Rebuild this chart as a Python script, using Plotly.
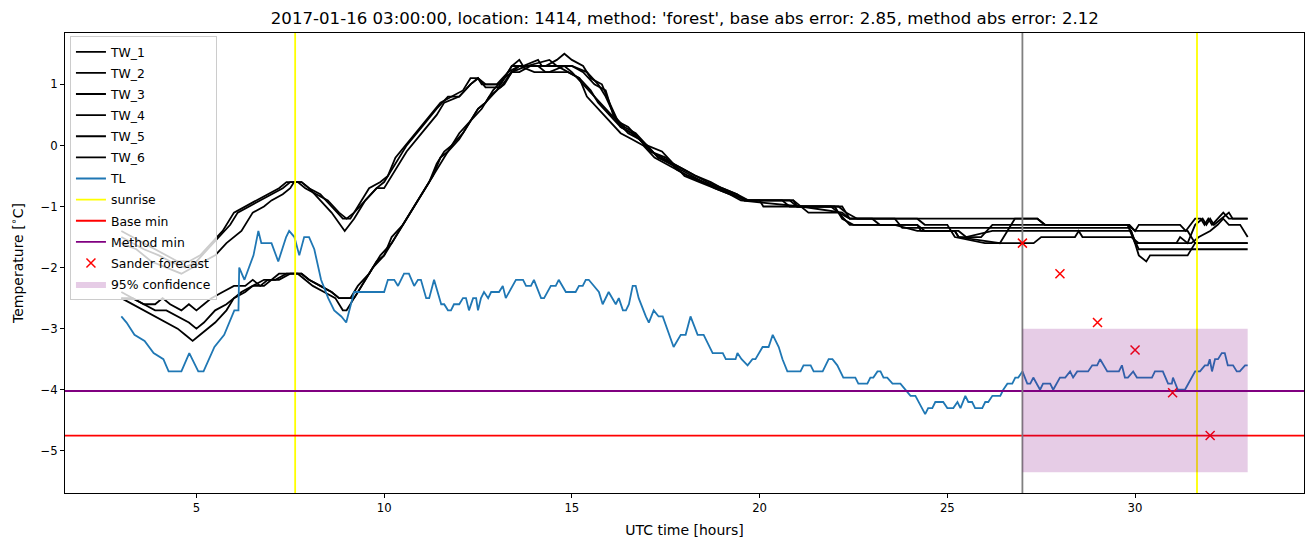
import plotly.graph_objects as go

# ---------------- data ----------------
tl_hours = [3.0, 3.14, 3.35, 3.62, 3.86, 4.12, 4.26, 4.6, 4.81, 5.05, 5.19, 5.48, 5.74, 6.01, 6.12, 6.14, 6.28,
            6.52, 6.65, 6.73, 7.0, 7.18, 7.39, 7.47, 7.61, 7.74, 7.87, 8.0, 8.14, 8.32, 8.51, 8.67, 8.86, 8.99,
            9.2, 9.34, 10.0, 10.1, 10.27, 10.37, 10.53, 10.66, 10.8, 10.9, 10.98, 11.12, 11.2, 11.33, 11.52,
            11.6, 11.7, 11.78, 11.86, 12.0, 12.1, 12.18, 12.26, 12.37, 12.45, 12.5, 12.58, 12.66, 12.77, 12.85,
            13.06, 13.16, 13.24, 13.51, 13.7, 13.78, 13.91, 13.99, 14.18, 14.26, 14.44, 14.57, 14.65, 14.84,
            15.1, 15.19, 15.29, 15.37, 15.45, 15.72, 15.82, 15.98, 16.17, 16.25, 16.36, 16.44, 16.52, 16.62,
            16.7, 16.78, 16.84, 16.97, 17.05, 17.18, 17.31, 17.42, 17.71, 17.9, 18.03, 18.16, 18.35, 18.51,
            18.75, 19.02, 19.1, 19.36, 19.41, 19.52, 19.68, 19.81, 19.89, 20.08, 20.24, 20.35, 20.51, 20.61,
            20.74, 21.09, 21.17, 21.36, 21.44, 21.68, 21.84, 21.94, 22.07, 22.15, 22.23, 22.55, 22.63, 22.87,
            22.95, 23.03, 23.14, 23.22, 23.3, 23.4, 23.54, 23.75, 23.88, 24.02, 24.15, 24.41, 24.49, 24.6,
            24.68, 24.89, 25.0, 25.16, 25.27, 25.35, 25.48, 25.56, 25.66, 25.74, 25.93, 26.01, 26.09, 26.2,
            26.41, 26.49, 26.6, 26.73, 26.81, 26.89, 27.0, 27.13, 27.21, 27.29, 27.47, 27.55, 27.74, 27.82,
            28.0, 28.14, 28.27, 28.35, 28.46, 28.75, 28.86, 28.99, 29.07, 29.26, 29.57, 29.65, 29.73, 29.81,
            29.95, 30.05, 30.45, 30.53, 30.74, 30.88, 30.98, 31.01, 31.14, 31.33, 31.6, 31.73, 31.86, 31.94,
            31.99, 32.05, 32.13, 32.21, 32.31, 32.39, 32.47, 32.61, 32.71, 32.79, 32.93, 33.0]
tl_temp = [-2.8, -2.9, -3.1, -3.2, -3.4, -3.5, -3.7, -3.7, -3.4, -3.7, -3.7, -3.3, -3.1, -2.7, -2.7, -2.0, -2.2,
           -1.8, -1.4, -1.6, -1.6, -1.9, -1.5, -1.4, -1.5, -1.8, -1.5, -1.5, -1.7, -2.2, -2.5, -2.7, -2.8, -2.9,
           -2.4, -2.4, -2.4, -2.2, -2.2, -2.3, -2.1, -2.1, -2.3, -2.2, -2.2, -2.5, -2.5, -2.2, -2.6,
           -2.6, -2.7, -2.7, -2.6, -2.6, -2.5, -2.5, -2.7, -2.5, -2.5, -2.7, -2.5, -2.4, -2.5, -2.4,
           -2.4, -2.3, -2.5, -2.2, -2.2, -2.3, -2.3, -2.2, -2.5, -2.5, -2.3, -2.3, -2.2, -2.4,
           -2.4, -2.3, -2.3, -2.2, -2.2, -2.4, -2.6, -2.4, -2.6, -2.5, -2.7, -2.7, -2.6, -2.3,
           -2.3, -2.5, -2.6, -2.8, -2.9, -2.7, -2.8, -2.8, -3.3, -3.1, -3.1, -2.8, -3.1, -3.1,
           -3.4, -3.4, -3.5, -3.5, -3.4, -3.5, -3.6, -3.5, -3.5, -3.3, -3.3, -3.1, -3.3, -3.5,
           -3.7, -3.7, -3.6, -3.6, -3.7, -3.7, -3.5, -3.5, -3.6, -3.7, -3.8, -3.8, -3.9, -3.9,
           -3.8, -3.8, -3.7, -3.7, -3.8, -3.8, -3.9, -3.9, -4.0, -4.1, -4.1, -4.4, -4.3, -4.3,
           -4.2, -4.2, -4.3, -4.3, -4.2, -4.3, -4.1, -4.2, -4.2, -4.3, -4.3, -4.2, -4.2, -4.1,
           -4.1, -4.0, -3.9, -3.9, -3.8, -3.8, -3.7, -3.9, -3.9, -3.8, -4.0, -3.9, -3.9, -4.0,
           -3.8, -3.8, -3.7, -3.8, -3.7, -3.7, -3.6, -3.6, -3.5, -3.7, -3.7, -3.6, -3.8, -3.8,
           -3.7, -3.8, -3.8, -3.7, -3.7, -3.9, -3.9, -3.8, -4.0, -4.0, -3.7, -3.7, -3.6, -3.6,
           -3.5, -3.7, -3.5, -3.5, -3.4, -3.4, -3.6, -3.6, -3.7, -3.7, -3.6, -3.6]

tw1_hours = [3.0, 3.3, 3.6, 3.9, 4.2, 4.5, 4.8, 5.1, 5.4, 5.7, 6.0, 6.3, 6.6, 6.9, 7.2, 7.4, 7.8, 8.0, 8.3, 8.6,
             8.9, 9.1, 9.3, 9.6, 9.9, 10.1, 10.3, 10.7, 11.1, 11.5, 11.8, 12.1, 12.3, 12.5, 12.7, 13.0, 13.3,
             13.6, 14.0, 14.3, 14.6, 14.8, 15.0, 15.3, 15.5, 15.8, 16.0, 16.3, 16.6, 17.0, 17.4, 17.7, 18.0,
             18.3, 18.7, 19.0, 19.4, 19.7, 20.9, 21.0, 22.2, 22.4, 26.0, 27.4, 27.6, 29.85, 30.0, 30.1, 31.2,
             31.35, 31.6, 31.75, 31.85, 31.95, 32.05, 32.2, 32.35, 32.5, 33.0]
tw1_temp = [-1.4, -1.5, -1.6, -1.7, -1.8, -1.9, -1.9, -1.8, -1.6, -1.4, -1.1, -1.0, -0.9, -0.8, -0.7, -0.6, -0.6,
            -0.7, -0.8, -1.0, -1.2, -1.2, -1.0, -0.7, -0.6, -0.5, -0.2, 0.1, 0.4, 0.7, 0.8, 0.9, 1.1, 1.1, 1.0,
            1.0, 1.2, 1.3, 1.3, 1.3, 1.4, 1.5, 1.4, 1.3, 1.1, 1.0, 0.7, 0.3, 0.2, 0.0, -0.1, -0.3, -0.4, -0.5,
            -0.6, -0.7, -0.8, -0.9, -0.9, -1.0, -1.0, -1.2, -1.2, -1.2, -1.3, -1.3, -1.4, -1.3, -1.3, -1.4,
            -1.2, -1.2, -1.3, -1.2, -1.3, -1.2, -1.1, -1.2, -1.2]

tw2_hours = [3.0, 3.3, 3.6, 4.0, 4.3, 4.7, 5.0, 5.3, 5.6, 5.9, 6.1, 6.4, 6.7, 7.0, 7.3, 7.5, 7.7, 7.9, 8.2, 8.5,
             8.8, 9.0, 9.2, 9.5, 9.8, 10.0, 10.3, 10.6, 11.0, 11.4, 11.7, 12.0, 12.3, 12.5, 12.6, 13.1, 13.4,
             13.6, 13.7, 14.1, 14.2, 14.6, 15.0, 15.4, 15.7, 15.9, 16.2, 16.5, 16.8, 17.1, 17.5, 17.8, 18.1,
             18.5, 18.9, 19.3, 19.6, 20.9, 21.3, 22.1, 22.4, 24.2, 24.3, 25.2, 25.3, 25.9, 26.2, 29.8, 30.0,
             31.5, 31.7, 32.0, 32.2, 32.35, 32.5, 32.8, 33.0]
tw2_temp = [-1.5, -1.6, -1.7, -1.8, -1.9, -2.0, -1.9, -1.7, -1.5, -1.3, -1.1, -1.0, -0.9, -0.8, -0.7, -0.6, -0.6,
            -0.7, -0.8, -0.9, -1.1, -1.2, -1.1, -0.9, -0.7, -0.6, -0.3, 0.0, 0.3, 0.6, 0.8, 0.8, 1.0, 1.1, 1.0,
            1.0, 1.3, 1.4, 1.3, 1.4, 1.3, 1.3, 1.3, 1.2, 1.0, 0.8, 0.4, 0.2, 0.1, -0.1, -0.2, -0.4, -0.5,
            -0.6, -0.7, -0.8, -0.9, -0.9, -1.1, -1.1, -1.3, -1.3, -1.4, -1.4, -1.5, -1.5, -1.3, -1.3, -1.6,
            -1.6, -1.5, -1.4, -1.3, -1.2, -1.3, -1.3, -1.5]

tw3_hours = [3.0, 3.4, 3.8, 4.2, 4.6, 4.9, 5.2, 5.5, 5.8, 6.2, 6.5, 6.8, 7.0, 7.3, 7.5, 7.6, 7.8, 8.0, 8.3, 8.6,
             8.95, 9.2, 9.5, 9.8, 10.0, 10.3, 10.6, 11.0, 11.4, 11.6, 12.0, 12.3, 12.5, 12.7, 13.1, 13.4, 13.8,
             14.4, 14.6, 15.0, 15.3, 15.6, 15.9, 16.1, 16.4, 16.7, 17.0, 17.3, 17.7, 18.0, 18.4, 18.8, 19.2,
             19.5, 21.1, 22.2, 22.4, 23.6, 23.8, 27.0, 29.85, 30.1, 33.0]
tw3_temp = [-1.6, -1.7, -1.9, -2.0, -2.1, -2.0, -1.9, -1.8, -1.6, -1.4, -1.1, -1.0, -0.9, -0.8, -0.7, -0.6, -0.6,
            -0.7, -0.9, -1.1, -1.4, -1.2, -0.9, -0.7, -0.7, -0.4, -0.1, 0.2, 0.5, 0.7, 0.8, 1.0, 1.1, 0.95,
            0.95, 1.2, 1.3, 1.4, 1.3, 1.3, 1.2, 1.0, 0.9, 0.5, 0.3, 0.2, 0.0, -0.2, -0.3, -0.5, -0.6, -0.7,
            -0.8, -0.9, -1.0, -1.1, -1.2, -1.2, -1.35, -1.35, -1.35, -1.7, -1.7]

tw4_hours = [3.0, 3.3, 3.6, 3.9, 4.2, 4.5, 4.7, 4.9, 5.1, 5.3, 5.5, 5.8, 6.0, 6.3, 6.5, 6.8, 7.0, 7.2, 7.7, 7.9,
             8.1, 8.4, 8.7, 8.9, 9.0, 9.2, 9.5, 9.8, 10.0, 10.2, 10.5, 10.7, 11.0, 11.2, 11.4, 11.6, 11.8, 12.0,
             12.3, 12.5, 12.7, 12.9, 13.2, 13.4, 13.6, 14.0, 14.4, 14.8, 15.0, 15.3, 15.6, 15.9, 16.2, 16.5,
             16.8, 17.1, 17.4, 17.7, 18.0, 18.3, 18.6, 19.0, 19.4, 19.6, 20.0, 20.1, 22.0, 22.2, 22.5, 24.2,
             24.4, 25.3, 25.5, 26.2, 29.9, 30.1, 30.3, 30.4, 31.4, 31.6, 33.0]
tw4_temp = [-2.5, -2.6, -2.7, -2.8, -2.9, -3.0, -3.1, -3.2, -3.1, -3.0, -2.9, -2.7, -2.5, -2.4, -2.3, -2.3, -2.2,
            -2.1, -2.1, -2.2, -2.3, -2.4, -2.5, -2.7, -2.7, -2.5, -2.2, -1.9, -1.8, -1.5, -1.3, -1.1, -0.8,
            -0.6, -0.3, -0.1, 0.0, 0.2, 0.4, 0.6, 0.7, 0.9, 1.1, 1.3, 1.3, 1.2, 1.2, 1.3, 1.2, 1.0, 0.8, 0.6,
            0.4, 0.3, 0.1, -0.1, -0.2, -0.3, -0.4, -0.5, -0.6, -0.7, -0.8, -0.9, -0.9, -1.0, -1.0, -1.2, -1.3,
            -1.3, -1.4, -1.4, -1.5, -1.4, -1.4, -1.8, -1.9, -1.8, -1.8, -1.6, -1.6]

tw5_hours = [3.0, 3.3, 3.6, 3.9, 4.2, 4.5, 4.8, 5.0, 5.2, 5.5, 5.8, 6.0, 6.2, 6.5, 6.8, 7.2, 7.5, 7.8, 8.0, 8.3,
             8.6, 8.8, 9.2, 9.4, 9.7, 10.0, 10.3, 10.6, 10.9, 11.2, 11.4, 11.6, 11.8, 12.1, 12.3, 12.6, 12.8,
             13.0, 13.2, 13.4, 13.6, 14.1, 14.3, 14.9, 15.2, 15.5, 15.7, 16.0, 16.3, 16.6, 17.0, 17.3, 17.6,
             17.9, 18.2, 18.5, 18.9, 19.3, 19.6, 20.8, 21.0, 22.1, 22.3, 22.6, 24.2, 24.4, 25.0, 25.2, 26.0,
             27.3, 27.5, 28.4, 28.5, 28.6, 29.9, 30.1, 31.1, 31.2, 31.4, 31.6, 31.8, 31.9, 32.0, 32.1, 32.3,
             32.5, 32.6, 33.0]
tw5_temp = [-2.5, -2.5, -2.6, -2.7, -2.7, -2.8, -2.9, -3.0, -2.9, -2.7, -2.6, -2.5, -2.4, -2.3, -2.2, -2.2, -2.1,
            -2.1, -2.2, -2.3, -2.4, -2.5, -2.5, -2.3, -2.0, -1.8, -1.5, -1.2, -0.9, -0.6, -0.4, -0.2, 0.0, 0.2,
            0.4, 0.6, 0.8, 0.9, 1.1, 1.2, 1.3, 1.3, 1.2, 1.2, 1.1, 0.9, 0.7, 0.5, 0.3, 0.2, 0.0, -0.2, -0.3,
            -0.4, -0.5, -0.6, -0.7, -0.8, -0.9, -0.9, -1.0, -1.0, -1.1, -1.2, -1.2, -1.3, -1.3, -1.5, -1.6,
            -1.6, -1.5, -1.5, -1.4, -1.5, -1.5, -1.6, -1.6, -1.5, -1.6, -1.3, -1.2, -1.3, -1.2, -1.3, -1.2,
            -1.1, -1.2, -1.2]

tw6_hours = [3.0, 3.3, 3.6, 3.9, 4.1, 4.3, 4.6, 4.8, 5.0, 5.2, 5.4, 5.7, 6.0, 6.3, 6.5, 6.7, 6.9, 7.1, 7.4, 7.8,
             8.0, 8.3, 8.6, 8.8, 9.1, 9.3, 9.6, 9.9, 10.2, 10.5, 10.8, 11.1, 11.3, 11.5, 11.7, 12.0, 12.3, 12.5,
             12.7, 13.0, 13.2, 13.4, 13.6, 13.9, 14.6, 14.9, 15.2, 15.4, 15.7, 16.0, 16.3, 16.6, 16.9, 17.2,
             17.5, 17.8, 18.1, 18.5, 18.8, 19.2, 19.7, 20.6, 20.8, 21.9, 22.1, 22.4, 23.0, 23.2, 23.6, 24.2,
             25.2, 25.3, 26.4, 26.6, 26.8, 27.4, 27.6, 29.8, 30.0, 31.4, 31.6, 33.0]
tw6_temp = [-2.4, -2.5, -2.6, -2.6, -2.5, -2.6, -2.7, -2.6, -2.7, -2.6, -2.5, -2.4, -2.3, -2.3, -2.2, -2.3, -2.2,
            -2.2, -2.1, -2.1, -2.2, -2.3, -2.4, -2.5, -2.5, -2.3, -2.1, -1.8, -1.6, -1.3, -1.0, -0.7, -0.5,
            -0.2, -0.1, 0.1, 0.4, 0.6, 0.7, 0.9, 1.0, 1.2, 1.2, 1.3, 1.3, 1.2, 1.1, 0.8, 0.6, 0.4, 0.2, 0.1,
            0.0, -0.2, -0.3, -0.4, -0.5, -0.6, -0.7, -0.8, -0.9, -0.9, -1.0, -1.0, -1.1, -1.2, -1.2, -1.3,
            -1.3, -1.4, -1.4, -1.5, -1.6, -1.4, -1.2, -1.2, -1.3, -1.3, -1.4, -1.4, -1.6, -1.6]

sunrise_hours = [7.63, 31.65]
base_min = -4.75
method_min = -4.02
forecast_start = 27.0
sander_hours = [27, 28, 29, 30, 31, 32]
sander_temp = [-1.6, -2.1, -2.9, -3.35, -4.05, -4.75]
conf_hours = [27.0, 33.0]
conf_low, conf_high = -5.35, -3.0

x_range = [1.5, 34.5]
y_range = [-5.69, 1.84]
x_ticks = [5, 10, 15, 20, 25, 30]
y_ticks = [-5, -4, -3, -2, -1, 0, 1]

title = ("2017-01-16 03:00:00, location: 1414, method: 'forest', "
         "base abs error: 2.85, method abs error: 2.12")

# ---------------- figure ----------------
fig = go.Figure()
tw = [(tw1_hours, tw1_temp), (tw2_hours, tw2_temp), (tw3_hours, tw3_temp),
      (tw4_hours, tw4_temp), (tw5_hours, tw5_temp), (tw6_hours, tw6_temp)]
for i, (h, t) in enumerate(tw):
    fig.add_trace(go.Scatter(x=h, y=t, mode="lines", name=f"TW_{i+1}",
                             line=dict(color="black", width=1.8), legendgroup=f"g{i}"))
fig.add_trace(go.Scatter(x=tl_hours, y=tl_temp, mode="lines", name="TL",
                         line=dict(color="#1f77b4", width=1.8), legendgroup="tl"))

sx, sy = [], []
for s in sunrise_hours:
    sx += [s, s, None]
    sy += [y_range[0], y_range[1], None]
fig.add_trace(go.Scatter(x=sx, y=sy, mode="lines", name="sunrise",
                         line=dict(color="yellow", width=1.8), legendgroup="sr"))
fig.add_trace(go.Scatter(x=x_range, y=[base_min, base_min], mode="lines", name="Base min",
                         line=dict(color="red", width=1.8), legendgroup="bm"))
fig.add_trace(go.Scatter(x=x_range, y=[method_min, method_min], mode="lines", name="Method min",
                         line=dict(color="purple", width=1.8), legendgroup="mm"))
fig.add_trace(go.Scatter(x=[forecast_start, forecast_start], y=y_range, mode="lines",
                         name="forecast start", legendgroup="zz",
                         line=dict(color="gray", width=1.8), showlegend=False))
fig.add_trace(go.Scatter(x=sander_hours, y=sander_temp, mode="markers", name="Sander forecast",
                         marker=dict(symbol="x-thin", size=9, color="red",
                                     line=dict(color="red", width=1.5)), legendgroup="sf"))
fig.add_trace(go.Scatter(x=[conf_hours[0], conf_hours[1], conf_hours[1], conf_hours[0], conf_hours[0]],
                         y=[conf_low, conf_low, conf_high, conf_high, conf_low],
                         mode="lines", fill="toself", fillcolor="rgba(128,0,128,0.2)",
                         line=dict(width=0, color="rgba(128,0,128,0)"), name="95% confidence",
                         legendgroup="cf"))

font_family = "DejaVu Sans"
fig.update_layout(
    width=1313, height=547,
    margin=dict(l=65, r=9, t=33, b=54),
    plot_bgcolor="white", paper_bgcolor="white",
    font=dict(family=font_family, size=11.7, color="black"),
    title=dict(text=title, x=0.5216, xanchor="center", y=1 - 18 / 547, yanchor="middle",
               font=dict(size=16.6, family=font_family, color="black")),
    showlegend=True,
    legend=dict(x=0.004, y=0.993, xanchor="left", yanchor="top",
                bgcolor="rgba(255,255,255,0.8)", bordercolor="#cccccc", borderwidth=1,
                font=dict(size=12.4, family=font_family), tracegroupgap=2, traceorder="grouped",
                entrywidth=120, entrywidthmode="pixels"),
    xaxis=dict(range=x_range, tickvals=x_ticks, showgrid=False, zeroline=False,
               showline=True, linecolor="black", linewidth=1, mirror=True,
               ticks="outside", ticklen=4, tickcolor="black",
               title=dict(text="UTC time [hours]", standoff=11)),
    yaxis=dict(range=y_range, tickvals=y_ticks, showgrid=False, zeroline=False,
               showline=True, linecolor="black", linewidth=1, mirror=True,
               ticks="outside", ticklen=4, tickcolor="black",
               title=dict(text="Temperature [<sup>∘</sup>C]", standoff=13)),
)

fig.write_html("out.html")
